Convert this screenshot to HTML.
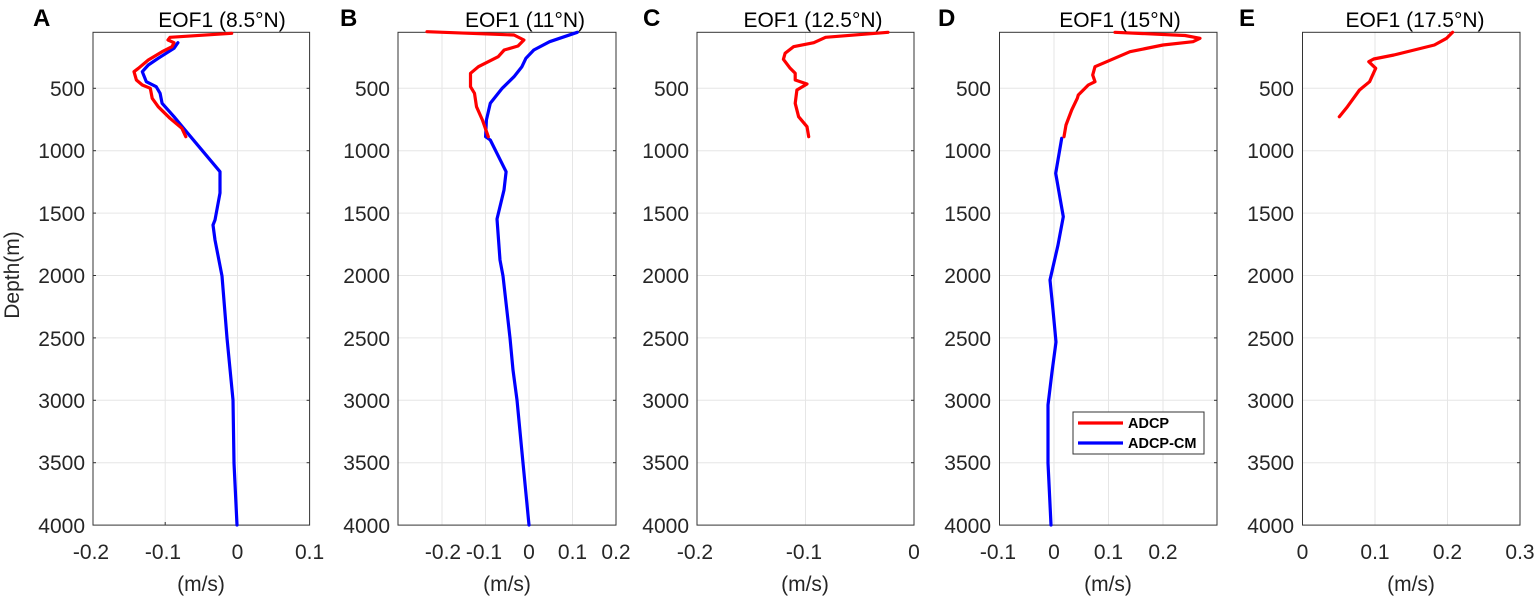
<!DOCTYPE html>
<html><head><meta charset="utf-8"><style>
html,body{margin:0;padding:0;background:#fff;}
svg{display:block;font-family:"Liberation Sans",Arial,sans-serif;}
.g{stroke:#e6e6e6;stroke-width:1;}
.bx{fill:none;stroke:#333;stroke-width:1;}
.tm{stroke:#333;stroke-width:1;}
.tk{font-size:21px;fill:#262626;}
.tt{font-size:21px;fill:#000;}
.lt{font-size:24px;font-weight:bold;fill:#000;}
.r{fill:none;stroke:#ff0000;stroke-width:3.2;stroke-linejoin:round;stroke-linecap:round;}
.b{fill:none;stroke:#0000ff;stroke-width:3.2;stroke-linejoin:round;stroke-linecap:round;}
</style></head><body>
<svg width="1535" height="596" viewBox="0 0 1535 596" xmlns="http://www.w3.org/2000/svg">

<!-- Panel A -->
<g>
<g class="g">
<line x1="93" y1="88.3" x2="309.6" y2="88.3"/><line x1="93" y1="150.7" x2="309.6" y2="150.7"/><line x1="93" y1="213.1" x2="309.6" y2="213.1"/><line x1="93" y1="275.5" x2="309.6" y2="275.5"/><line x1="93" y1="337.9" x2="309.6" y2="337.9"/><line x1="93" y1="400.3" x2="309.6" y2="400.3"/><line x1="93" y1="462.7" x2="309.6" y2="462.7"/>
<line x1="165.2" y1="32.3" x2="165.2" y2="525"/><line x1="237.5" y1="32.3" x2="237.5" y2="525"/>
</g>
<g class="tm">
<line x1="93" y1="88.3" x2="96" y2="88.3"/><line x1="93" y1="150.7" x2="96" y2="150.7"/><line x1="93" y1="213.1" x2="96" y2="213.1"/><line x1="93" y1="275.5" x2="96" y2="275.5"/><line x1="93" y1="337.9" x2="96" y2="337.9"/><line x1="93" y1="400.3" x2="96" y2="400.3"/><line x1="93" y1="462.7" x2="96" y2="462.7"/>
<line x1="306.6" y1="88.3" x2="309.6" y2="88.3"/><line x1="306.6" y1="150.7" x2="309.6" y2="150.7"/><line x1="306.6" y1="213.1" x2="309.6" y2="213.1"/><line x1="306.6" y1="275.5" x2="309.6" y2="275.5"/><line x1="306.6" y1="337.9" x2="309.6" y2="337.9"/><line x1="306.6" y1="400.3" x2="309.6" y2="400.3"/><line x1="306.6" y1="462.7" x2="309.6" y2="462.7"/>
<line x1="165.2" y1="522" x2="165.2" y2="525"/><line x1="237.5" y1="522" x2="237.5" y2="525"/>
</g>
<rect class="bx" x="93" y="32.3" width="216.6" height="492.8"/>
<polyline class="b" points="177.9,42.7 174,48.3 158.2,58.3 148.3,65 142.3,71.7 146.3,81.7 156.2,86.7 160.1,93.3 162.1,103.3 174,116.7 187.8,133.3 220,171.7 220,193 215,220 213,225 215,240 222,276 227,338 233,400 234,463 237,525"/>
<polyline class="r" points="231.7,33.3 170,37.3 168,40 174,42.7 172,46.7 162.1,51.7 148.3,60 138.4,68.3 134,71.7 136.4,80 142.3,85 150.3,88.3 152.2,98.3 158.2,106.7 170,118.3 181.9,128.3 185.8,136.7"/>
<text class="lt" x="33" y="26">A</text>
<text class="tt" x="222" y="27" text-anchor="middle">EOF1 (8.5°N)</text>
<g class="tk" text-anchor="end">
<text x="85" y="96">500</text><text x="85" y="158">1000</text><text x="85" y="221">1500</text><text x="85" y="283">2000</text><text x="85" y="346">2500</text><text x="85" y="408">3000</text><text x="85" y="470">3500</text><text x="85" y="533">4000</text>
</g>
<g class="tk" text-anchor="middle">
<text x="91" y="559">-0.2</text><text x="163" y="559">-0.1</text><text x="237.5" y="559">0</text><text x="309.6" y="559">0.1</text>
<text x="201" y="591">(m/s)</text>
</g>
<text class="tk" transform="translate(19,275) rotate(-90)" text-anchor="middle">Depth(m)</text>
</g>

<!-- Panel B -->
<g>
<g class="g">
<line x1="398" y1="88.3" x2="616" y2="88.3"/><line x1="398" y1="150.7" x2="616" y2="150.7"/><line x1="398" y1="213.1" x2="616" y2="213.1"/><line x1="398" y1="275.5" x2="616" y2="275.5"/><line x1="398" y1="337.9" x2="616" y2="337.9"/><line x1="398" y1="400.3" x2="616" y2="400.3"/><line x1="398" y1="462.7" x2="616" y2="462.7"/>
<line x1="442" y1="32.3" x2="442" y2="525"/><line x1="485.5" y1="32.3" x2="485.5" y2="525"/><line x1="529" y1="32.3" x2="529" y2="525"/><line x1="572.5" y1="32.3" x2="572.5" y2="525"/>
</g>
<g class="tm">
<line x1="613" y1="88.3" x2="616" y2="88.3"/><line x1="613" y1="150.7" x2="616" y2="150.7"/><line x1="613" y1="213.1" x2="616" y2="213.1"/><line x1="613" y1="275.5" x2="616" y2="275.5"/><line x1="613" y1="337.9" x2="616" y2="337.9"/><line x1="613" y1="400.3" x2="616" y2="400.3"/><line x1="613" y1="462.7" x2="616" y2="462.7"/>
</g>
<rect class="bx" x="398" y="32.3" width="218" height="492.8"/>
<polyline class="b" points="577.3,32.3 549.6,41.7 533.8,50 525.9,58.3 521.9,66.7 514,76.7 502.2,88.3 490.3,103.3 486.4,120 485.6,136.7 490.3,140 506.1,171.7 504,190 497,219 500,260 503,276 510,338 513,370 517,400 523,463 529,525"/>
<polyline class="r" points="427,31.7 514,35 523.9,40 518,46 504.2,50 498.2,56.7 478.4,66.7 470.5,73.3 470.5,86.7 474.5,93.3 476.5,106.7 482.4,120 488.3,136.7"/>
<text class="lt" x="340" y="26">B</text>
<text class="tt" x="525" y="27" text-anchor="middle">EOF1 (11°N)</text>
<g class="tk" text-anchor="end">
<text x="390" y="96">500</text><text x="390" y="158">1000</text><text x="390" y="221">1500</text><text x="390" y="283">2000</text><text x="390" y="346">2500</text><text x="390" y="408">3000</text><text x="390" y="470">3500</text><text x="390" y="533">4000</text>
</g>
<g class="tk" text-anchor="middle">
<text x="443" y="559">-0.2</text><text x="484" y="559">-0.1</text><text x="529" y="559">0</text><text x="572.5" y="559">0.1</text><text x="616" y="559">0.2</text>
<text x="507" y="591">(m/s)</text>
</g>
</g>

<!-- Panel C -->
<g>
<g class="g">
<line x1="697" y1="88.3" x2="914" y2="88.3"/><line x1="697" y1="150.7" x2="914" y2="150.7"/><line x1="697" y1="213.1" x2="914" y2="213.1"/><line x1="697" y1="275.5" x2="914" y2="275.5"/><line x1="697" y1="337.9" x2="914" y2="337.9"/><line x1="697" y1="400.3" x2="914" y2="400.3"/><line x1="697" y1="462.7" x2="914" y2="462.7"/>
<line x1="805.5" y1="32.3" x2="805.5" y2="525"/>
</g>
<g class="tm">
<line x1="911" y1="88.3" x2="914" y2="88.3"/><line x1="911" y1="150.7" x2="914" y2="150.7"/><line x1="911" y1="213.1" x2="914" y2="213.1"/><line x1="911" y1="275.5" x2="914" y2="275.5"/><line x1="911" y1="337.9" x2="914" y2="337.9"/><line x1="911" y1="400.3" x2="914" y2="400.3"/><line x1="911" y1="462.7" x2="914" y2="462.7"/>
</g>
<rect class="bx" x="697" y="32.3" width="217" height="492.8"/>
<polyline class="r" points="888,32.3 825.6,37.3 813.8,42.7 793.5,46.7 785.1,53.3 783.4,59.3 790.2,68.3 795.2,73.3 795.2,80 807,84 796.9,90 795.2,103.3 798.6,116.7 807,126.7 808.7,136.7"/>
<text class="lt" x="643" y="26">C</text>
<text class="tt" x="813" y="27" text-anchor="middle">EOF1 (12.5°N)</text>
<g class="tk" text-anchor="end">
<text x="689" y="96">500</text><text x="689" y="158">1000</text><text x="689" y="221">1500</text><text x="689" y="283">2000</text><text x="689" y="346">2500</text><text x="689" y="408">3000</text><text x="689" y="470">3500</text><text x="689" y="533">4000</text>
</g>
<g class="tk" text-anchor="middle">
<text x="695" y="559">-0.2</text><text x="804" y="559">-0.1</text><text x="914" y="559">0</text>
<text x="805" y="591">(m/s)</text>
</g>
</g>

<!-- Panel D -->
<g>
<g class="g">
<line x1="999.5" y1="88.3" x2="1217" y2="88.3"/><line x1="999.5" y1="150.7" x2="1217" y2="150.7"/><line x1="999.5" y1="213.1" x2="1217" y2="213.1"/><line x1="999.5" y1="275.5" x2="1217" y2="275.5"/><line x1="999.5" y1="337.9" x2="1217" y2="337.9"/><line x1="999.5" y1="400.3" x2="1217" y2="400.3"/><line x1="999.5" y1="462.7" x2="1217" y2="462.7"/>
<line x1="1054" y1="32.3" x2="1054" y2="525"/><line x1="1108.5" y1="32.3" x2="1108.5" y2="525"/><line x1="1163" y1="32.3" x2="1163" y2="525"/>
</g>
<g class="tm">
<line x1="1214" y1="88.3" x2="1217" y2="88.3"/><line x1="1214" y1="150.7" x2="1217" y2="150.7"/><line x1="1214" y1="213.1" x2="1217" y2="213.1"/><line x1="1214" y1="275.5" x2="1217" y2="275.5"/><line x1="1214" y1="337.9" x2="1217" y2="337.9"/><line x1="1214" y1="400.3" x2="1217" y2="400.3"/><line x1="1214" y1="462.7" x2="1217" y2="462.7"/>
</g>
<rect class="bx" x="999.5" y="32.3" width="217.5" height="492.8"/>
<polyline class="b" points="1061.7,138.3 1055.7,173.3 1063.3,216.7 1058,245 1050,280 1053,310 1056,342 1052,372 1048,405 1048,463 1051,525"/>
<polyline class="r" points="1115,32.3 1185,35.5 1200,38.3 1193,41.7 1163,45 1130,51.7 1106.7,61.7 1095,66.7 1092.7,75 1095,81.7 1088.3,85 1078.3,95 1077.3,98.3 1071.7,110 1066,125 1064,136.7"/>
<text class="lt" x="938" y="26">D</text>
<text class="tt" x="1120" y="27" text-anchor="middle">EOF1 (15°N)</text>
<g class="tk" text-anchor="end">
<text x="991" y="96">500</text><text x="991" y="158">1000</text><text x="991" y="221">1500</text><text x="991" y="283">2000</text><text x="991" y="346">2500</text><text x="991" y="408">3000</text><text x="991" y="470">3500</text><text x="991" y="533">4000</text>
</g>
<g class="tk" text-anchor="middle">
<text x="998" y="559">-0.1</text><text x="1054" y="559">0</text><text x="1108.5" y="559">0.1</text><text x="1163" y="559">0.2</text>
<text x="1108" y="591">(m/s)</text>
</g>
<rect x="1073" y="412" width="131" height="42" fill="#fff" stroke="#333" stroke-width="1"/>
<line x1="1078" y1="423" x2="1123" y2="423" stroke="#ff0000" stroke-width="3.2"/>
<line x1="1078" y1="443" x2="1123" y2="443" stroke="#0000ff" stroke-width="3.2"/>
<text x="1128" y="428" font-size="14.5" font-weight="bold">ADCP</text>
<text x="1128" y="448" font-size="14.5" font-weight="bold">ADCP-CM</text>
</g>

<!-- Panel E -->
<g>
<g class="g">
<line x1="1302.5" y1="88.3" x2="1520" y2="88.3"/><line x1="1302.5" y1="150.7" x2="1520" y2="150.7"/><line x1="1302.5" y1="213.1" x2="1520" y2="213.1"/><line x1="1302.5" y1="275.5" x2="1520" y2="275.5"/><line x1="1302.5" y1="337.9" x2="1520" y2="337.9"/><line x1="1302.5" y1="400.3" x2="1520" y2="400.3"/><line x1="1302.5" y1="462.7" x2="1520" y2="462.7"/>
<line x1="1375" y1="32.3" x2="1375" y2="525"/><line x1="1447.5" y1="32.3" x2="1447.5" y2="525"/>
</g>
<g class="tm">
<line x1="1517" y1="88.3" x2="1520" y2="88.3"/><line x1="1517" y1="150.7" x2="1520" y2="150.7"/><line x1="1517" y1="213.1" x2="1520" y2="213.1"/><line x1="1517" y1="275.5" x2="1520" y2="275.5"/><line x1="1517" y1="337.9" x2="1520" y2="337.9"/><line x1="1517" y1="400.3" x2="1520" y2="400.3"/><line x1="1517" y1="462.7" x2="1520" y2="462.7"/>
</g>
<rect class="bx" x="1302.5" y="32.3" width="217.5" height="492.8"/>
<polyline class="r" points="1452.6,32.3 1446.6,38.3 1434.4,45 1414.2,50 1393.9,55 1373.7,59 1368.8,61.7 1375.7,68.3 1369.6,81.7 1359.5,90 1347.4,106.7 1339.3,116.7"/>
<text class="lt" x="1239" y="26">E</text>
<text class="tt" x="1415" y="27" text-anchor="middle">EOF1 (17.5°N)</text>
<g class="tk" text-anchor="end">
<text x="1294" y="96">500</text><text x="1294" y="158">1000</text><text x="1294" y="221">1500</text><text x="1294" y="283">2000</text><text x="1294" y="346">2500</text><text x="1294" y="408">3000</text><text x="1294" y="470">3500</text><text x="1294" y="533">4000</text>
</g>
<g class="tk" text-anchor="middle">
<text x="1302.5" y="559">0</text><text x="1375" y="559">0.1</text><text x="1447.5" y="559">0.2</text><text x="1520" y="559">0.3</text>
<text x="1411" y="591">(m/s)</text>
</g>
</g>
</svg>
</body></html>
